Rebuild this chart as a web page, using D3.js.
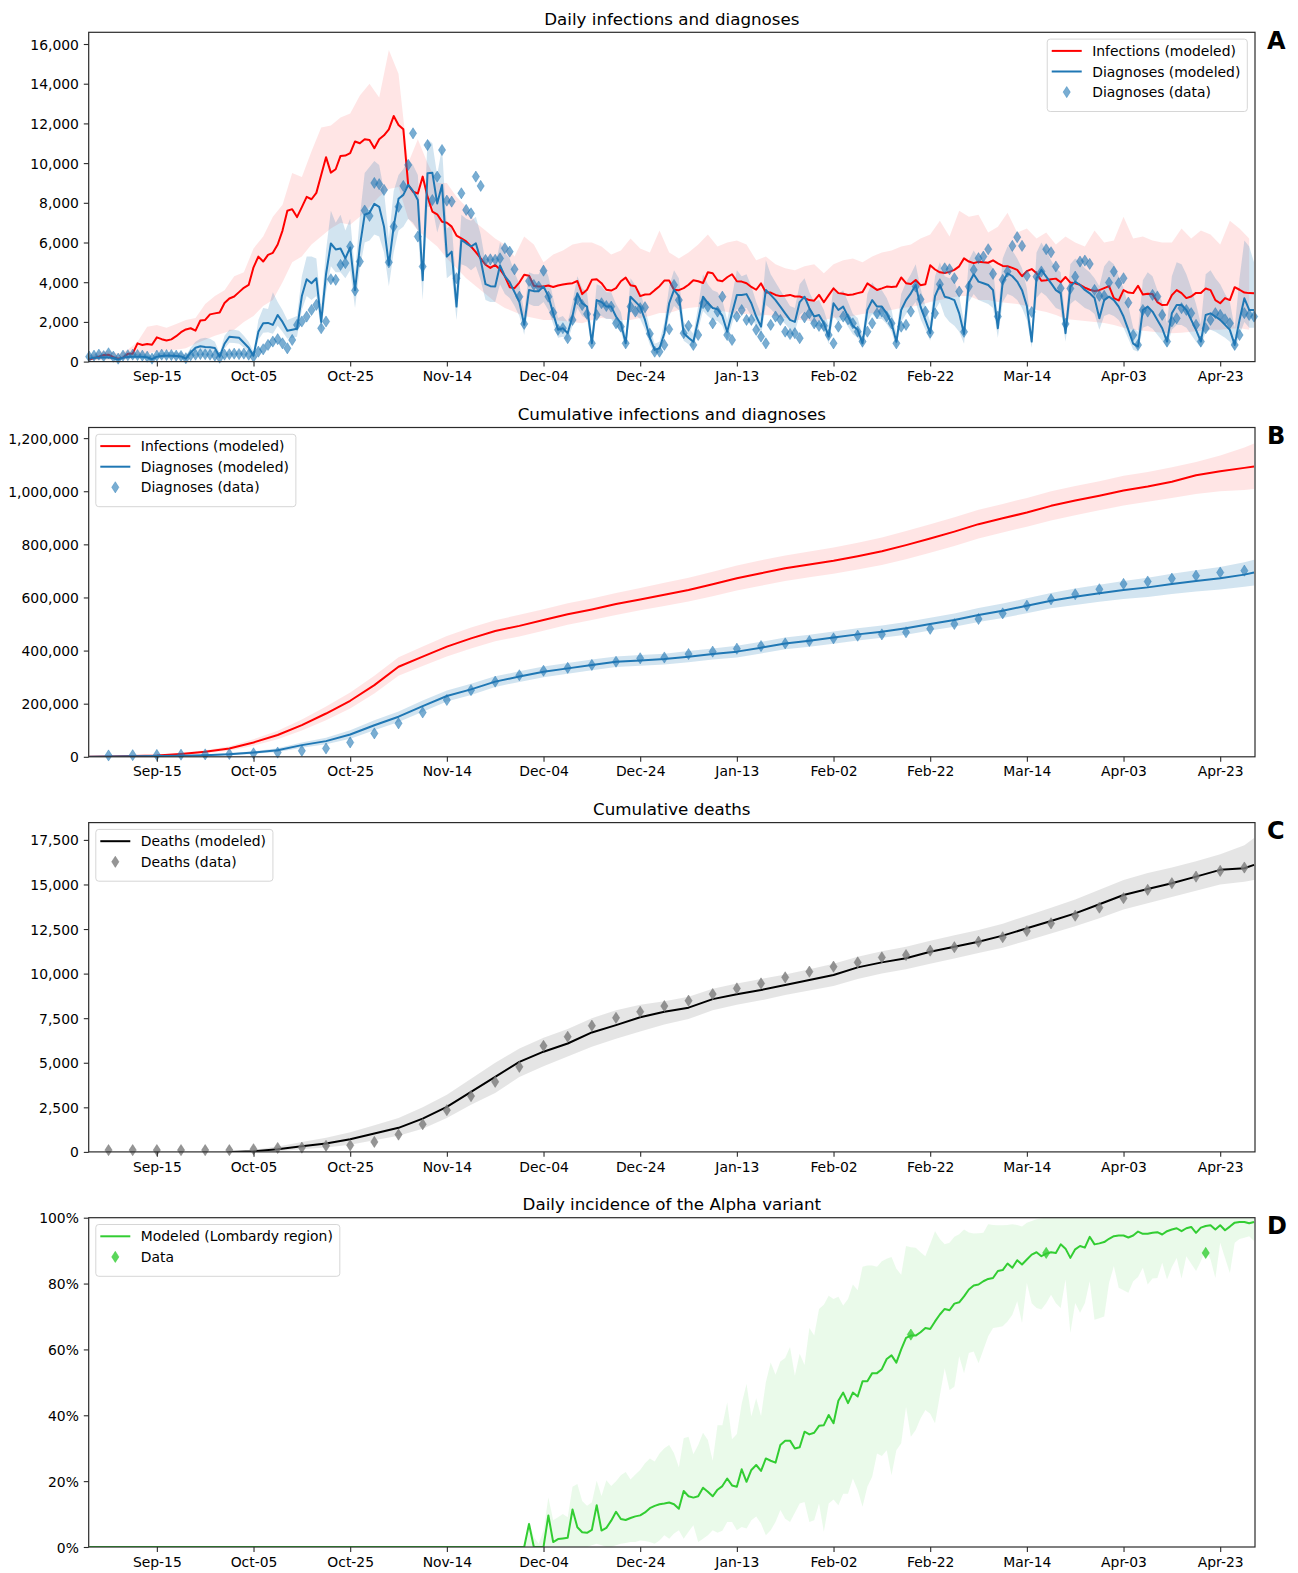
<!DOCTYPE html>
<html>
<head>
<meta charset="utf-8">
<script src="https://cdn.jsdelivr.net/npm/d3@7"></script>
<style>
  body { margin: 0; background: #fff; }
  svg { display: block; }
  text { font-family: "DejaVu Sans", sans-serif; fill: #000; }
</style>
</head>
<body>
<svg id="fig" width="1298" height="1573"></svg>
<script>
// ---------------------------------------------------------------------------
// Data (day 0 = 2020-09-01)
// ---------------------------------------------------------------------------
const startDay = "2020-09-01";

const xTickDates  = ["2020-09-15","2020-10-05","2020-10-25","2020-11-14","2020-12-04","2020-12-24",
                     "2021-01-13","2021-02-02","2021-02-22","2021-03-14","2021-04-03","2021-04-23"];

// Panel A: daily infections (modeled), one value per day
const dailyInfections = [
  100, 180, 250, 330, 350, 220, 150, 200, 390, 400,
  920, 840, 890, 850, 1220, 1130, 1060, 1120, 1280, 1480,
  1620, 1680, 1560, 2070, 2100, 2380, 2430, 2470, 2950, 3180,
  3280, 3500, 3720, 3860, 4750, 5290, 5040, 5380, 5480, 5900,
  6600, 7600, 7680, 7280, 7780, 8300, 8180, 8500, 9400, 10300,
  9520, 9690, 10360, 10380, 10500, 11090, 11000, 11200, 11170, 10750,
  11200, 11400, 11700, 12370, 11920, 11700, 8900, 8560, 8470, 9320,
  8310, 7560, 7420, 7050, 7000, 6800, 6350, 6210, 6060, 5800,
  5520, 5200, 4880, 4720, 4870, 4640, 4300, 3750, 3700, 3980,
  4380, 4330, 3820, 3780, 3780, 3830, 3760, 3830, 3880, 3920,
  3950, 4060, 3400, 3620, 4120, 4150, 3950, 3620, 3580, 3700,
  4050, 4230, 3850, 3800, 3300, 3380, 3390, 3600, 3800, 4080,
  4080, 3620, 3600, 3700, 3870, 4100, 4050, 3960, 4500, 4450,
  4100, 4050, 4250, 4400, 4050, 4030, 3950, 3760, 3620, 3940,
  3480, 3480, 3360, 3300, 3320, 3360, 3280, 3280, 3200, 3100,
  3070, 3360, 2990, 3350, 3690, 3450, 3420, 3360, 3380, 3450,
  3510, 3940, 3780, 3610, 3690, 3780, 3760, 3780, 4240, 3950,
  3910, 4110, 3850, 3900, 4850, 4640, 4500, 4460, 4520, 4620,
  4800, 5200, 5040, 4960, 5030, 5000, 4980, 5100, 4950, 4820,
  4800, 4720, 4620, 4300, 4560, 4660, 4450, 4070, 4100, 4150,
  4180, 4000, 4260, 3980, 3950, 3870, 3730, 3620, 3560, 3600,
  3700, 3800, 3200, 3080, 3600, 3480, 3450, 3820, 3380, 3420,
  3400, 3000, 2850, 2860, 3350, 3600, 3450, 3200, 3280, 3460,
  3460, 3680, 3600, 3100, 2940, 3200, 3100, 3750, 3620, 3480,
  3450, 3440
];
// Infections uncertainty band, every second day (day 0, 2, 4, ...)
const infectionsBandHi = [
  300, 500, 550, 400, 600, 1000, 1760, 1850, 1700, 1900,
  2100, 2200, 2900, 3300, 3600, 4300, 4500, 5700, 6300, 7300,
  7900, 9500, 9300, 10600, 11800, 11900, 12300, 12500, 13400, 14000,
  13300, 15700, 14500, 10000, 11200, 10000, 9000, 9000, 8300, 7800,
  7000, 6600, 6200, 5900, 5300, 6300, 5900, 5000, 5400, 5600,
  5900, 6000, 6000, 5800, 5400, 5600, 6200, 5700, 5500, 6600,
  5500, 5200, 5500, 5900, 6400, 5800, 6000, 6100, 5900, 5100,
  5300, 4900, 4700, 4600, 4800, 4900, 4450, 4900, 5100, 5200,
  5000, 5300, 5500, 5600, 5800, 5900, 6200, 6400, 7100, 6300,
  7600, 7300, 7400, 6500, 6800, 7500, 6500, 6700, 6200, 6500,
  5900, 6300, 6000, 5800, 6600, 6000, 6100, 7300, 6200, 6300,
  6100, 6000, 6000, 6700, 6200, 6600, 6400, 5900, 7100, 6700,
  6200
];
const infectionsBandLo = [
  50, 80, 100, 80, 150, 300, 400, 500, 550, 600,
  670, 900, 1100, 1300, 1450, 1600, 2000, 2300, 2800, 3100,
  4000, 5000, 5300, 5900, 6300, 6700, 7000, 6900, 7300, 7800,
  8300, 8700, 8800, 7200, 6600, 6200, 5800, 5200, 4700, 4200,
  3800, 3400, 3000, 2700, 2500, 2300, 2200, 2100, 2100, 2050,
  2000, 1930, 2100, 2200, 2150, 2100, 2100, 2200, 2300, 2450,
  2450, 2600, 2700, 2750, 2800, 2600, 2500, 2400, 2400, 2300,
  2350, 2300, 2200, 2100, 2100, 2000, 2100, 2200, 2250, 2300,
  2400, 2450, 2500, 2600, 2700, 2750, 2850, 3000, 3100, 3200,
  3300, 3300, 3100, 3100, 3000, 2950, 2900, 2800, 2600, 2500,
  2350, 2150, 2100, 2050, 2000, 1950, 1850, 1700, 1600, 1550,
  1500, 1450, 1430, 1450, 1500, 1550, 1600, 1600, 1650, 1680,
  1600
];
// Daily diagnoses (modeled) with band, one value per day
const dailyDiagnoses = [
  150, 200, 200, 220, 210, 180, 100, 200, 230, 240,
  250, 240, 220, 120, 250, 280, 290, 290, 280, 260,
  150, 450, 700, 770, 730, 720, 680, 250, 900, 1250,
  1230, 1200, 950, 700, 300, 1500, 1930, 1950, 1850, 2350,
  2000, 1550, 1600, 1650, 3300, 4150, 3950, 4200, 2000, 4400,
  5950, 5650, 5700, 5200, 5750, 3600, 5800, 7400, 7500, 7950,
  7800, 6800, 4870, 6800, 8200, 8400, 8900, 8600, 8140, 4100,
  9490, 9520, 7970, 8900, 5290, 5540, 2770, 6130, 5960, 5800,
  5960, 5120, 3900, 3800, 3780, 4850, 4300, 4000, 3500, 3000,
  1850, 3610, 3550, 3550, 3780, 3300, 2430, 1600, 1680, 1430,
  2300, 3440, 2940, 2770, 920, 3100, 3000, 2770, 2770, 2270,
  1930, 920, 3270, 3020, 2770, 2100, 1200, 590, 670, 1430,
  2940, 3610, 3300, 1430, 1200, 1000, 2100, 3270, 2950, 2700,
  2640, 2300, 1500, 2430, 3360, 3360, 3400, 2940, 2270, 1760,
  3610, 3360, 3100, 2770, 2430, 2100, 2000, 3000, 3270, 2690,
  2270, 2350, 1930, 1260, 2940, 2600, 2770, 2270, 1800, 1600,
  920, 2600, 3100, 2770, 2770, 2430, 1930, 1000, 2600, 3100,
  3440, 3860, 2770, 2100, 1430, 3300, 3860, 3270, 3200, 3100,
  2430, 1390, 3950, 4400, 4030, 3950, 3860, 3600, 1680, 4000,
  4450, 4300, 4030, 3600, 2800, 1010, 4200, 4620, 4280, 3950,
  3600, 3440, 1430, 3780, 4030, 3860, 3610, 3440, 3200, 2180,
  3100, 3270, 3100, 2770, 2270, 1600, 900, 760, 2600, 2770,
  2520, 2100, 1680, 1010, 2430, 2850, 2850, 2600, 2100, 1600,
  1010, 2350, 2430, 2270, 2100, 1850, 1600, 840, 2100, 3190,
  2600, 2600
];
const diagnosesBandLo = [
  60, 90, 100, 110, 110, 90, 40, 100, 120, 130,
  140, 130, 120, 60, 140, 160, 170, 170, 160, 150,
  70, 280, 480, 540, 500, 500, 460, 120, 650, 950,
  940, 900, 700, 480, 150, 1100, 1450, 1480, 1400, 1800,
  1500, 1150, 1200, 1250, 2600, 3300, 3100, 3300, 1500, 3500,
  4800, 4500, 4500, 4200, 4600, 2700, 4700, 6000, 6100, 6400,
  6300, 5500, 3800, 5500, 6600, 6800, 7200, 7000, 6600, 3100,
  7800, 7800, 6500, 7300, 4200, 4400, 2100, 4900, 4800, 4600,
  4800, 4100, 3100, 3000, 3000, 3900, 3400, 3200, 2800, 2300,
  1350, 2900, 2800, 2800, 3000, 2600, 1900, 1200, 1250, 1050,
  1800, 2700, 2300, 2150, 650, 2400, 2300, 2150, 2150, 1750,
  1500, 650, 2550, 2350, 2150, 1600, 850, 400, 450, 1050,
  2300, 2800, 2600, 1050, 880, 700, 1600, 2550, 2300, 2100,
  2050, 1800, 1100, 1900, 2650, 2650, 2700, 2300, 1750, 1300,
  2850, 2650, 2400, 2150, 1900, 1600, 1500, 2350, 2550, 2100,
  1750, 1800, 1500, 900, 2300, 2000, 2150, 1750, 1380, 1200,
  650, 2000, 2400, 2150, 2150, 1900, 1500, 700, 2000, 2400,
  2700, 3000, 2150, 1600, 1050, 2600, 3000, 2300, 2000, 1800,
  1500, 900, 3000, 3400, 3100, 3000, 2900, 2700, 1200, 3000,
  3400, 3300, 3100, 2700, 2100, 700, 3200, 3500, 3300, 3000,
  2700, 2600, 1000, 2900, 3100, 2900, 2700, 2600, 2400, 1600,
  2300, 2400, 2300, 2100, 1700, 1150, 600, 500, 1700, 1800,
  1650, 1350, 1050, 700, 1600, 1850, 1850, 1700, 1350, 1000,
  700, 1500, 1600, 1500, 1350, 1200, 1000, 550, 1350, 2000,
  1700, 1700
];
const diagnosesBandHi = [
  260, 320, 330, 350, 340, 300, 200, 330, 360, 380,
  400, 390, 360, 230, 400, 450, 470, 480, 460, 450,
  300, 700, 1000, 1150, 1200, 1150, 1000, 420, 1300, 1600,
  1600, 1550, 1300, 1000, 500, 2100, 2700, 2650, 3500, 3000,
  2600, 2100, 2200, 2300, 4300, 5300, 5300, 5200, 2700, 5600,
  7600, 7000, 7400, 6600, 7200, 4500, 7300, 9500, 9800, 10100,
  9900, 8600, 6200, 8600, 9400, 9700, 10200, 9900, 9400, 5300,
  11200, 11000, 9400, 10800, 6700, 6900, 3700, 7400, 7200, 7100,
  7300, 6400, 5000, 4900, 4800, 6000, 5500, 5200, 4500, 3900,
  2500, 4500, 4400, 4400, 4900, 4300, 3200, 2200, 2300, 2000,
  3000, 4300, 3700, 3500, 1300, 3900, 3800, 3500, 3500, 2900,
  2500, 1300, 4200, 3850, 3500, 2700, 1700, 900, 1000, 2000,
  3800, 4600, 4200, 2000, 1700, 1400, 2800, 4400, 3900, 3600,
  3500, 3100, 2100, 3300, 4600, 4300, 4400, 3800, 3000, 2400,
  5100, 4400, 4000, 3600, 3200, 2800, 2700, 3900, 4200, 3500,
  3000, 3100, 2600, 1800, 3800, 3400, 3600, 3000, 2400, 2200,
  1300, 3400, 4000, 3600, 3600, 3200, 2600, 1400, 3400, 4000,
  4400, 4900, 3700, 2800, 2000, 4300, 5000, 4300, 4200, 4100,
  3300, 2000, 5100, 5600, 5200, 5100, 5000, 4700, 2300, 5200,
  5800, 5600, 5200, 4700, 3700, 1500, 5500, 6000, 5600, 5100,
  4700, 4500, 2000, 4900, 5200, 5000, 4700, 4500, 4200, 3800,
  4800, 5100, 4900, 4300, 3700, 2800, 1700, 1500, 4100, 4500,
  4300, 3600, 3000, 1900, 4300, 5000, 4900, 4400, 3700, 2900,
  1900, 4400, 4600, 4200, 3900, 3400, 3000, 1700, 4200, 6100,
  5800, 5000
];
// Reported daily diagnoses
const dailyDiagnosesData = [
  250, 300, 350, 280, 420, 250, 150, 300, 320, 350,
  330, 300, 250, 150, 300, 350, 330, 330, 300, 280,
  170, 320, 350, 380, 370, 350, 300, 200, 350, 370,
  400, 380, 400, 350, 250, 500, 620, 840, 1010, 1130,
  920, 670, 1090, 1850, 2020, 2270, 2600, 2860, 1680, 2020,
  4150, 4120, 4870, 4960, 5800, 3580, 5040, 7610, 7340, 9000,
  8940, 8650, 5000, 6800, 7800, 8850, 9910, 11500, 6300, 4790,
  10910, 8140, 9320, 10660, 8110, 8060, 4200, 8480, 7640, 7470,
  9320, 8850, 5120, 5150, 5130, 5200, 5710, 5540, 4650, 3270,
  1900, 4060, 3860, 3780, 4580, 3270, 2470, 1600, 1680, 1180,
  2100, 3140, 2850, 2400, 920, 2350, 2940, 2800, 2770, 1930,
  1760, 920, 2770, 2520, 2690, 2740, 1400, 500, 500, 840,
  1630, 3860, 3100, 1430, 1800, 840, 1340, 2940, 2770, 1930,
  2520, 3270, 1340, 1090, 2270, 2600, 2100, 2100, 1600, 1260,
  920, 1850, 2270, 2100, 1510, 1390, 1430, 1180, 2230, 2430,
  1930, 1800, 1800, 1340, 920, 1760, 2270, 2130, 1930, 1510,
  1010, 1510, 1930, 2430, 2520, 2270, 1930, 920, 1760, 1850,
  2520, 3780, 3140, 2520, 1460, 2430, 3900, 4700, 4650, 4200,
  3530, 1500, 3780, 4620, 5210, 5290, 5660, 4420, 2270, 4120,
  4540, 5830, 6270, 5830, 4320, 2500, 4280, 4540, 5660, 5510,
  4790, 3700, 1900, 3680, 4280, 5040, 5090, 4920, 3610, 3310,
  3310, 3980, 4540, 3950, 4200, 2970, 1340, 840, 2600, 2520,
  3360, 3280, 2350, 1010, 2020, 2180, 2690, 2600, 2440, 1850,
  1010, 1680, 2100, 2440, 2350, 2130, 1930, 840, 1340, 2440,
  2350, 2270
];

// Panels B and C: cumulative series, sampled on these days
const cumDays = [0, 4, 9, 14, 19, 24, 29, 34, 39, 44, 49, 54, 59, 64, 69, 74, 79, 84, 89, 94,
  99, 104, 109, 114, 119, 124, 129, 134, 139, 144, 149, 154, 159, 164, 169, 174, 179, 184, 189, 194,
  199, 204, 209, 214, 219, 224, 229, 234, 239, 241];

const cumInfections = [0, 1500, 3000, 5000, 11000, 19000, 31000, 54000, 82000, 119000,
  163000, 211000, 270000, 339000, 377000, 415000, 446000, 474000, 493000, 515000,
  537000, 555000, 575000, 592000, 610000, 628000, 650000, 672000, 691000, 710000,
  724000, 738000, 755000, 774000, 797000, 822000, 848000, 876000, 898000, 920000,
  945000, 965000, 983000, 1003000, 1018000, 1036000, 1060000, 1075000, 1088000, 1093000];
const cumInfectionsHi = [0, 2500, 5000, 8000, 15000, 25000, 40000, 66000, 98000, 140000,
  189000, 242000, 305000, 375000, 415000, 455000, 487000, 514000, 535000, 556000,
  578000, 596000, 617000, 636000, 655000, 674000, 697000, 720000, 740000, 758000,
  773000, 788000, 806000, 826000, 850000, 876000, 902000, 930000, 952000, 975000,
  1000000, 1020000, 1038000, 1058000, 1072000, 1090000, 1110000, 1135000, 1165000, 1180000];
const cumInfectionsLo = [0, 800, 1800, 3000, 7000, 13000, 23000, 42000, 66000, 99000,
  138000, 182000, 238000, 305000, 342000, 378000, 408000, 435000, 453000, 475000,
  497000, 515000, 534000, 552000, 568000, 585000, 605000, 626000, 644000, 662000,
  676000, 689000, 705000, 722000, 744000, 768000, 794000, 822000, 845000, 866000,
  890000, 910000, 928000, 946000, 960000, 975000, 990000, 1000000, 1005000, 1008000];

const cumDiagnoses = [0, 800, 1800, 2900, 4300, 6300, 10000, 16000, 25000, 44000,
  59000, 84000, 119000, 151000, 191000, 229000, 254000, 283000, 302000, 320000,
  333000, 346000, 358000, 363000, 368000, 377000, 387000, 396000, 411000, 427000,
  437000, 449000, 461000, 471000, 484000, 500000, 515000, 534000, 550000, 569000,
  588000, 603000, 616000, 628000, 638000, 651000, 662000, 672000, 686000, 694000];
const cumDiagnosesHi = [0, 1200, 3000, 4500, 6500, 9000, 14000, 21000, 32000, 54000,
  72000, 100000, 138000, 171000, 212000, 250000, 275000, 303000, 322000, 340000,
  353000, 366000, 378000, 383000, 388000, 398000, 408000, 418000, 433000, 449000,
  460000, 472000, 484000, 494000, 508000, 524000, 540000, 560000, 577000, 597000,
  617000, 634000, 648000, 662000, 674000, 689000, 702000, 715000, 733000, 742000];
const cumDiagnosesLo = [0, 400, 1200, 1800, 2800, 4000, 6500, 11000, 18000, 34000,
  47000, 68000, 100000, 131000, 170000, 208000, 233000, 263000, 282000, 300000,
  313000, 326000, 338000, 343000, 348000, 356000, 366000, 374000, 389000, 405000,
  414000, 426000, 438000, 448000, 460000, 476000, 490000, 508000, 523000, 541000,
  559000, 572000, 584000, 594000, 602000, 613000, 622000, 630000, 640000, 645000];
// Reported cumulative diagnoses on days 4, 9, ..., 239
const cumDiagnosesData = [5000, 6000, 7000, 8000, 9000, 10500, 13000, 16000, 22600, 31400,
  54000, 88000, 126000, 167000, 214000, 251000, 283000, 307000, 324000, 335000,
  346000, 358000, 371000, 374000, 387000, 396000, 407000, 417000, 427000, 436000,
  446000, 456000, 461000, 469000, 482000, 500000, 519000, 540000, 569000, 593000,
  612000, 631000, 651000, 660000, 671000, 682000, 694000, 701000];

const cumDeaths = [0, 0, 0, 0, 0, 0, 0, 40, 150, 320,
  470, 710, 1030, 1350, 1870, 2530, 3370, 4210, 5050, 5620,
  6080, 6700, 7110, 7550, 7860, 8090, 8570, 8840, 9080, 9360,
  9640, 9920, 10350, 10630, 10860, 11230, 11510, 11790, 12130, 12540,
  12950, 13380, 13890, 14410, 14750, 15070, 15440, 15820, 15910, 16100];
const cumDeathsHi = [0, 0, 0, 0, 0, 0, 0, 120, 300, 560,
  800, 1100, 1500, 1900, 2500, 3200, 4100, 5000, 5800, 6400,
  6900, 7500, 7950, 8250, 8450, 8700, 9150, 9450, 9700, 9950,
  10250, 10550, 10950, 11250, 11500, 11850, 12150, 12450, 12800, 13250,
  13700, 14150, 14700, 15250, 15650, 15950, 16300, 16700, 17200, 17600];
const cumDeathsLo = [0, 0, 0, 0, 0, 0, 0, 0, 40, 150,
  250, 400, 650, 900, 1300, 1900, 2650, 3300, 4200, 4800,
  5350, 5900, 6350, 6750, 7150, 7450, 7950, 8250, 8500, 8800,
  9050, 9300, 9700, 10000, 10250, 10550, 10850, 11150, 11450, 11850,
  12250, 12650, 13100, 13600, 13950, 14300, 14650, 15000, 15150, 15250];
// Reported cumulative deaths on days 4, 9, ..., 239
const cumDeathsData = [100, 100, 100, 100, 100, 100, 150, 220, 240, 340,
  370, 560, 970, 1550, 2340, 3130, 3930, 4770, 5950, 6460,
  7080, 7520, 7860, 8180, 8480, 8850, 9170, 9450, 9790, 10110,
  10390, 10630, 10910, 11040, 11290, 11480, 11790, 12040, 12390, 12820,
  13250, 13700, 14230, 14700, 15070, 15440, 15760, 15950];

// Panel D: share of the Alpha variant (%), one value per day
const alphaShare = [
  0, 0, 0, 0, 0, 0, 0, 0, 0, 0,
  0, 0, 0, 0, 0, 0, 0, 0, 0, 0,
  0, 0, 0, 0, 0, 0, 0, 0, 0, 0,
  0, 0, 0, 0, 0, 0, 0, 0, 0, 0,
  0, 0, 0, 0, 0, 0, 0, 0, 0, 0,
  0, 0, 0, 0, 0, 0, 0, 0, 0, 0,
  0, 0, 0, 0, 0, 0, 0, 0, 0, 0,
  0, 0, 0, 0, 0, 0, 0, 0, 0, 0,
  0, 0, 0, 0, 0, 0, 0, 0, 0, 0,
  0, 7, 0, 0, 0, 9.6, 1.5, 2.4, 2.6, 2.8,
  11.4, 6, 4.5, 4.3, 5.2, 12.7, 5, 5.8, 8, 10.7,
  8.5, 8.2, 8.8, 9.3, 9.6, 10.5, 11.8, 12.5, 13, 13.2,
  13.5, 13, 11.6, 17, 15.4, 15, 15.4, 18, 16.8, 15.4,
  17.4, 18.5, 20.8, 18.7, 18.3, 23.6, 19.8, 23.4, 24.9, 23.1,
  26.9, 26.2, 25.6, 31, 32.3, 32.3, 29.9, 30.3, 35, 34.2,
  34.7, 36.8, 37, 40.1, 37.6, 44.4, 46.9, 43.7, 46.9, 45.7,
  50.3, 50.3, 52.8, 52.8, 54, 57.1, 58.2, 56, 60, 63.5,
  64.2, 64.2, 65.2, 66.5, 66.2, 68.5, 70.6, 72.3, 71.9, 73.9,
  74.3, 76.1, 78.2, 79.4, 79.7, 80.7, 81.4, 81.7, 83.8, 84.1,
  86.1, 84.8, 87.1, 85.8, 87.3, 88.8, 89.5, 88.3, 89.1, 89.5,
  89.3, 91.9, 90.6, 87.8, 90.4, 91.4, 90.9, 94.2, 91.9, 92.2,
  92.6, 93.6, 94.4, 94.6, 94.6, 94, 94.6, 95.8, 95.1, 95.1,
  95.4, 95.6, 94.9, 95.9, 96.4, 96.8, 95.9, 96.8, 97.2, 95.4,
  97, 97.5, 97.7, 96.4, 97.7, 96.2, 97.3, 98.5, 98.7, 98.7,
  98.3, 98.7
];
// Alpha band (%), one value per day starting at day 88
const alphaBandStart = 88;
const alphaBandHi = [
  0, 0, 0, 8, 3, 1, 5, 15, 8.1, 9,
  10, 9, 18.3, 19.1, 14, 12.5, 13.5, 20.1, 15.5, 20.3,
  18.5, 20, 21.8, 22.8, 20.5, 22, 23.4, 25.4, 26.9, 26,
  28.4, 30, 31, 28.5, 24.2, 33, 33.5, 28.2, 31, 34.7,
  32.5, 26.2, 37, 37, 43.9, 32.7, 34.3, 43.5, 49.5, 39.6,
  45.2, 39.8, 50, 56, 52.3, 56.3, 57.4, 60.7, 52, 58.7,
  55.3, 66.5, 64.2, 72.3, 73.6, 76.3, 75.3, 76, 73.3, 75.3,
  79.7, 78, 85.1, 85.5, 85.5, 85.1, 86.8, 87.5, 88.1, 84.5,
  82.7, 91.4, 91, 90.9, 89.5, 88.3, 92, 95.9, 93.5, 91.9,
  92.4, 94.2, 95, 96.4, 95.5, 95.2, 95.3, 95.4, 98, 97.8,
  97.7, 97.7, 97.8, 98, 97.8, 97.3, 98.5, 99, 99.5, 99.8,
  100, 100, 100, 100, 100, 100, 100, 100, 100, 100,
  100, 100, 100, 100, 100, 100, 100, 100, 100, 100,
  100, 100, 100, 100, 100, 100, 100, 100, 100, 100,
  100, 100, 100, 100, 100, 100, 100, 100, 100, 100,
  100, 100, 100, 100
];
const alphaBandLo = [
  0, 0, 0, 0, 0, 0, 0, 0, 0, 0,
  0, 0, 0, 0, 0, 0, 0.5, 1, 0.5, 0,
  0, 0.5, 1, 1.2, 1.5, 1.5, 2, 1.8, 1.5, 1,
  2, 3.6, 2.5, 4.1, 5.1, 2.5, 4.6, 6.6, 1.5, 2.5,
  3.6, 5.1, 4.3, 4.9, 7.6, 7.6, 5.1, 6.1, 5.6, 8.1,
  9.3, 7.1, 3.6, 5.1, 7.6, 11.2, 8.6, 7.6, 10.4, 13.2,
  13.7, 7.6, 8.1, 13.2, 4.6, 13.2, 14.4, 12.7, 16.2, 16.2,
  20.8, 17.3, 12.2, 18.3, 21.3, 28.4, 27.6, 29.4, 21.8, 29.4,
  31.5, 42.6, 33.5, 35.5, 39, 41.6, 40.5, 37.6, 46, 54.3,
  47.7, 48.7, 57.9, 52.8, 58.9, 59.4, 55.8, 59.9, 64, 66.5,
  66.7, 67, 68.5, 70.5, 74.6, 68, 80.2, 74, 72.6, 72.1,
  74, 76.6, 74, 72.6, 81.2, 65, 74.1, 71.1, 74, 80.7,
  69, 69.5, 70, 80.2, 85.3, 78.7, 78, 77.2, 80.7, 82,
  84.8, 79.7, 81.5, 81.7, 86.3, 81.2, 85, 87.8, 81.5, 88.3,
  86, 83.8, 86.8, 90.4, 87.3, 81.7, 92.4, 87.8, 83.2, 92.4,
  93.5, 93.9, 94.4, 92.9
];
const alphaDataDays = [170, 198, 231];
const alphaData = [64.5, 89.3, 89.3];

// ---------------------------------------------------------------------------
// Layout
// ---------------------------------------------------------------------------
const svg = d3.select("#fig");
const left = 88.7, right = 1255, panelH = 329.3;
const tops = [32.3, 427.5, 822.6, 1217.7];
const DAY = 86400000;
const t0 = d3.utcParse("%Y-%m-%d")(startDay).getTime();
const dayDate = d => new Date(t0 + d * DAY);

const x = d3.scaleUtc().domain([dayDate(-0.1), dayDate(241.2)]).range([left, right]);
const xTicks = xTickDates.map(d3.utcParse("%Y-%m-%d"));
const xFmt = d3.utcFormat("%b-%d");

const TICK = 13.9, TITLE = 16.7;
const AXIS_COLOR = "#2b2b2b";

const RED = "#ff0000", BLUE = "#1f77b4", GREEN = "#32cd32";

// thin diamond marker
const diamond = "M0,-5.6L3.6,0L0,5.6L-3.6,0Z";

function makePanel(i, yMax, yTicks, yFmt, title) {
  const top = tops[i], bottom = top + panelH;
  const y = d3.scaleLinear().domain([0, yMax]).range([bottom, top]);
  const g = svg.append("g");
  const clipId = "plotclip" + i;
  svg.append("clipPath").attr("id", clipId)
    .append("rect").attr("x", left).attr("y", top)
    .attr("width", right - left).attr("height", panelH);
  const plot = g.append("g").attr("clip-path", `url(#${clipId})`);
  const over = g.append("g");

  const xa = g.append("g").attr("transform", `translate(0,${bottom})`)
    .call(d3.axisBottom(x).tickValues(xTicks).tickFormat(xFmt).tickSize(4.9).tickPadding(4.9));
  const ya = g.append("g").attr("transform", `translate(${left},0)`)
    .call(d3.axisLeft(y).tickValues(yTicks).tickFormat(yFmt).tickSize(4.9).tickPadding(4.9));
  [xa, ya].forEach(a => {
    a.select(".domain").remove();
    a.selectAll(".tick line").attr("stroke", AXIS_COLOR).attr("stroke-width", 1.1);
    a.selectAll(".tick text").attr("font-size", TICK).attr("fill", "#111")
      .style("font-family", '"DejaVu Sans", sans-serif');
  });
  ya.selectAll(".tick text").attr("dy", "0.36em");

  g.append("text").attr("x", (left + right) / 2).attr("y", top - 7.5)
    .attr("text-anchor", "middle").attr("font-size", TITLE).attr("fill", "#111").text(title);
  g.append("text").attr("x", 1267).attr("y", top + 16.7)
    .attr("font-size", 24).attr("font-weight", "bold").text("ABCD"[i]);

  const frame = () => g.append("rect").attr("x", left).attr("y", top)
    .attr("width", right - left).attr("height", panelH)
    .attr("fill", "none").attr("stroke", AXIS_COLOR).attr("stroke-width", 1.2);
  return { plot, over, y, top, bottom, frame };
}

function band(p, rows, color, opacity) {
  p.plot.append("path").datum(rows)
    .attr("d", d3.area().x(r => x(dayDate(r.day))).y0(r => p.y(r.lo)).y1(r => p.y(r.hi)))
    .attr("fill", color).attr("fill-opacity", opacity).attr("stroke", "none");
}
function line(p, rows, color, width) {
  p.plot.append("path").datum(rows)
    .attr("d", d3.line().x(r => x(dayDate(r.day))).y(r => p.y(r.v)))
    .attr("fill", "none").attr("stroke", color).attr("stroke-width", width)
    .attr("stroke-linejoin", "round");
}
function markers(p, rows, color, opacity) {
  p.over.append("g").selectAll("path").data(rows).join("path")
    .attr("d", diamond)
    .attr("transform", r => `translate(${x(dayDate(r.day))},${p.y(r.v)})`)
    .attr("fill", color).attr("fill-opacity", opacity)
    .attr("stroke", color).attr("stroke-opacity", opacity).attr("stroke-width", 0.6);
}

function legend(p, entries, anchorRight) {
  const lg = svg.append("g");
  const top = p.top + 6.8;
  const rowH = 20.6;
  const texts = entries.map(e =>
    lg.append("text").attr("font-size", TICK).attr("fill", "#111").text(e.label));
  const maxW = d3.max(texts, t => t.node().getComputedTextLength());
  const w = 45 + maxW + 7;
  const h = 10.6 + entries.length * rowH;
  const x0 = anchorRight ? right - 7.7 - w : left + 7.1;
  lg.insert("rect", ":first-child").attr("x", x0).attr("y", top).attr("width", w).attr("height", h)
    .attr("rx", 3).attr("fill", "#fff").attr("fill-opacity", 0.8)
    .attr("stroke", "#d6d6d6").attr("stroke-width", 1);
  entries.forEach((e, k) => {
    const cy = top + 11.8 + k * rowH;
    if (e.kind === "line") {
      lg.append("line").attr("x1", x0 + 4.5).attr("x2", x0 + 34.5).attr("y1", cy).attr("y2", cy)
        .attr("stroke", e.color).attr("stroke-width", 2);
    } else {
      lg.append("path").attr("d", diamond).attr("transform", `translate(${x0 + 19.5},${cy})`)
        .attr("fill", e.color).attr("fill-opacity", e.opacity)
        .attr("stroke", e.color).attr("stroke-opacity", e.opacity).attr("stroke-width", 0.6);
    }
    texts[k].attr("x", x0 + 45).attr("y", cy + 5);
  });
}

const daily = arr => arr.map((v, i) => ({ day: i, v }));
const every2 = (lo, hi, start) => hi.map((v, i) => ({ day: start + 2 * i, lo: lo[i], hi: v }));
const perDay = (lo, hi, start) => hi.map((v, i) => ({ day: start + i, lo: lo[i], hi: v }));
const sampled = (arr) => arr.map((v, i) => ({ day: cumDays[i], v }));
const sampledBand = (lo, hi) => hi.map((v, i) => ({ day: cumDays[i], lo: lo[i], hi: v }));
const dataDays = cumDays.slice(1, 49);
const weekly = arr => arr.map((v, i) => ({ day: dataDays[i], v }));

// ---- Panel A: daily infections and diagnoses
const pA = makePanel(0, 16590, d3.range(0, 16001, 2000), d3.format(","), "Daily infections and diagnoses");
band(pA, every2(infectionsBandLo, infectionsBandHi, 0), RED, 0.1);
band(pA, perDay(diagnosesBandLo, diagnosesBandHi, 0), BLUE, 0.2);
line(pA, daily(dailyInfections), RED, 2);
line(pA, daily(dailyDiagnoses), BLUE, 2);
markers(pA, daily(dailyDiagnosesData), BLUE, 0.6);
pA.frame();
legend(pA, [
  { kind: "line", color: RED, label: "Infections (modeled)" },
  { kind: "line", color: BLUE, label: "Diagnoses (modeled)" },
  { kind: "marker", color: BLUE, opacity: 0.6, label: "Diagnoses (data)" }
], true);

// ---- Panel B: cumulative infections and diagnoses
const pB = makePanel(1, 1240000, d3.range(0, 1200001, 200000), d3.format(","), "Cumulative infections and diagnoses");
band(pB, sampledBand(cumInfectionsLo, cumInfectionsHi), RED, 0.1);
band(pB, sampledBand(cumDiagnosesLo, cumDiagnosesHi), BLUE, 0.2);
line(pB, sampled(cumInfections), RED, 2);
line(pB, sampled(cumDiagnoses), BLUE, 2);
markers(pB, weekly(cumDiagnosesData), BLUE, 0.6);
pB.frame();
legend(pB, [
  { kind: "line", color: RED, label: "Infections (modeled)" },
  { kind: "line", color: BLUE, label: "Diagnoses (modeled)" },
  { kind: "marker", color: BLUE, opacity: 0.6, label: "Diagnoses (data)" }
], false);

// ---- Panel C: cumulative deaths
const pC = makePanel(2, 18470, d3.range(0, 17501, 2500), d3.format(","), "Cumulative deaths");
band(pC, sampledBand(cumDeathsLo, cumDeathsHi).filter(r => r.day >= 29), "#000", 0.1);
line(pC, sampled(cumDeaths).filter(r => r.day >= 29), "#000", 2);
markers(pC, weekly(cumDeathsData), "#7a7a7a", 0.8);
pC.frame();
legend(pC, [
  { kind: "line", color: "#000", label: "Deaths (modeled)" },
  { kind: "marker", color: "#7a7a7a", opacity: 0.8, label: "Deaths (data)" }
], false);

// ---- Panel D: daily incidence of the Alpha variant
const pD = makePanel(3, 100, d3.range(0, 101, 20), v => v + "%", "Daily incidence of the Alpha variant");
band(pD, perDay(alphaBandLo, alphaBandHi, alphaBandStart), GREEN, 0.1);
line(pD, daily(alphaShare), GREEN, 2);
markers(pD, alphaData.map((v, i) => ({ day: alphaDataDays[i], v })), GREEN, 0.8);
pD.frame();
legend(pD, [
  { kind: "line", color: GREEN, label: "Modeled (Lombardy region)" },
  { kind: "marker", color: GREEN, opacity: 0.8, label: "Data" }
], false);
</script>
</body>
</html>
